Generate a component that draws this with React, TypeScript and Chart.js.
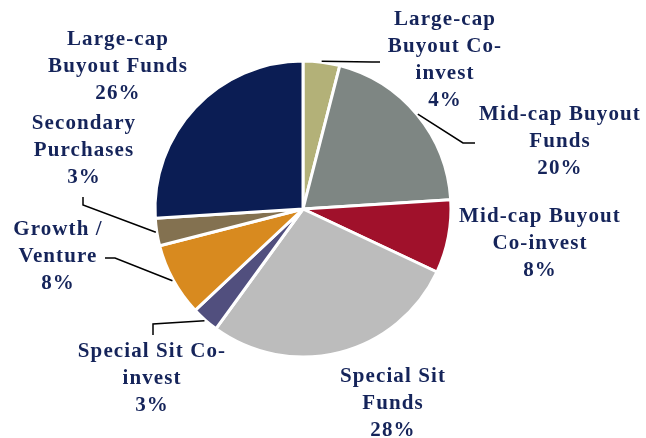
import React, { useEffect, useRef } from "react";
import { Chart, registerables } from "chart.js";

Chart.register(...registerables);

const categories = [
  ["Large-cap", "Buyout Co-", "invest"],
  ["Mid-cap Buyout", "Funds"],
  ["Mid-cap Buyout", "Co-invest"],
  ["Special Sit", "Funds"],
  ["Special Sit Co-", "invest"],
  ["Growth /", "Venture"],
  ["Secondary", "Purchases"],
  ["Large-cap", "Buyout Funds"],
];
const values = [4, 20, 8, 28, 3, 8, 3, 26];
const colors = ["#b3b178", "#7e8683", "#a0112b", "#bcbcbc", "#514f7e", "#d88a1f", "#837150", "#0b1d54"];

// label layout: text center x, first line center y
const labelPos: [number, number][] = [
  [445, 20],
  [560, 115],
  [540, 217],
  [393, 377],
  [152, 352],
  [58, 230],
  [84, 124],
  [118, 40],
];
// leader line bend/end points (null = no leader)
const leaders: ([number, number][] | null)[] = [
  [[372, 62], [380, 62]],
  [[463, 143], [475, 143]],
  null,
  null,
  [[153, 324], [153, 335]],
  [[115, 258], [105, 258]],
  [[83, 205], [83, 197]],
  null,
];

const labelPlugin = {
  id: "pieLabels",
  afterDraw(chart: any) {
    const ctx = chart.ctx;
    const meta = chart.getDatasetMeta(0);
    ctx.save();
    // leaders
    ctx.strokeStyle = "#000";
    ctx.lineWidth = 1.5;
    meta.data.forEach((arc: any, i: number) => {
      const pts = leaders[i];
      if (!pts) return;
      const { x, y, startAngle, endAngle, outerRadius } = arc.getProps(
        ["x", "y", "startAngle", "endAngle", "outerRadius"],
        true
      );
      const mid = (startAngle + endAngle) / 2;
      const r = outerRadius + 1;
      ctx.beginPath();
      ctx.moveTo(x + Math.cos(mid) * r, y + Math.sin(mid) * r);
      pts.forEach((p) => ctx.lineTo(p[0], p[1]));
      ctx.stroke();
    });
    // text
    ctx.fillStyle = "#15245a";
    ctx.font = "bold 21px 'Liberation Serif', 'Times New Roman', serif";
    (ctx as any).letterSpacing = "1.1px";
    ctx.textAlign = "center";
    ctx.textBaseline = "middle";
    const lh = 26.8;
    categories.forEach((lines, i) => {
      const all = [...lines, values[i] + "%"];
      const [cx, cy] = labelPos[i];
      all.forEach((t, j) => ctx.fillText(t, cx, cy + j * lh));
    });
    ctx.restore();
  },
};

export default function App() {
  const ref = useRef<HTMLCanvasElement>(null);
  useEffect(() => {
    if (!ref.current) return;
    const chart = new Chart(ref.current, {
      type: "pie",
      data: {
        labels: categories.map((c) => c.join(" ")),
        datasets: [
          {
            data: values,
            backgroundColor: colors,
            borderColor: "#ffffff",
            borderWidth: 3,
          },
        ],
      },
      options: {
        animation: false,
        responsive: false,
        radius: 148,
        layout: { padding: { left: 0, right: 40, top: 0, bottom: 20 } },
        plugins: {
          legend: { display: false },
          tooltip: { enabled: false },
        },
      } as any,
      plugins: [labelPlugin],
    });
    return () => chart.destroy();
  }, []);
  return (
    <canvas
      ref={ref}
      width={646}
      height={438}
      style={{ position: "fixed", left: 0, top: 0, width: 646, height: 438 }}
    />
  );
}
